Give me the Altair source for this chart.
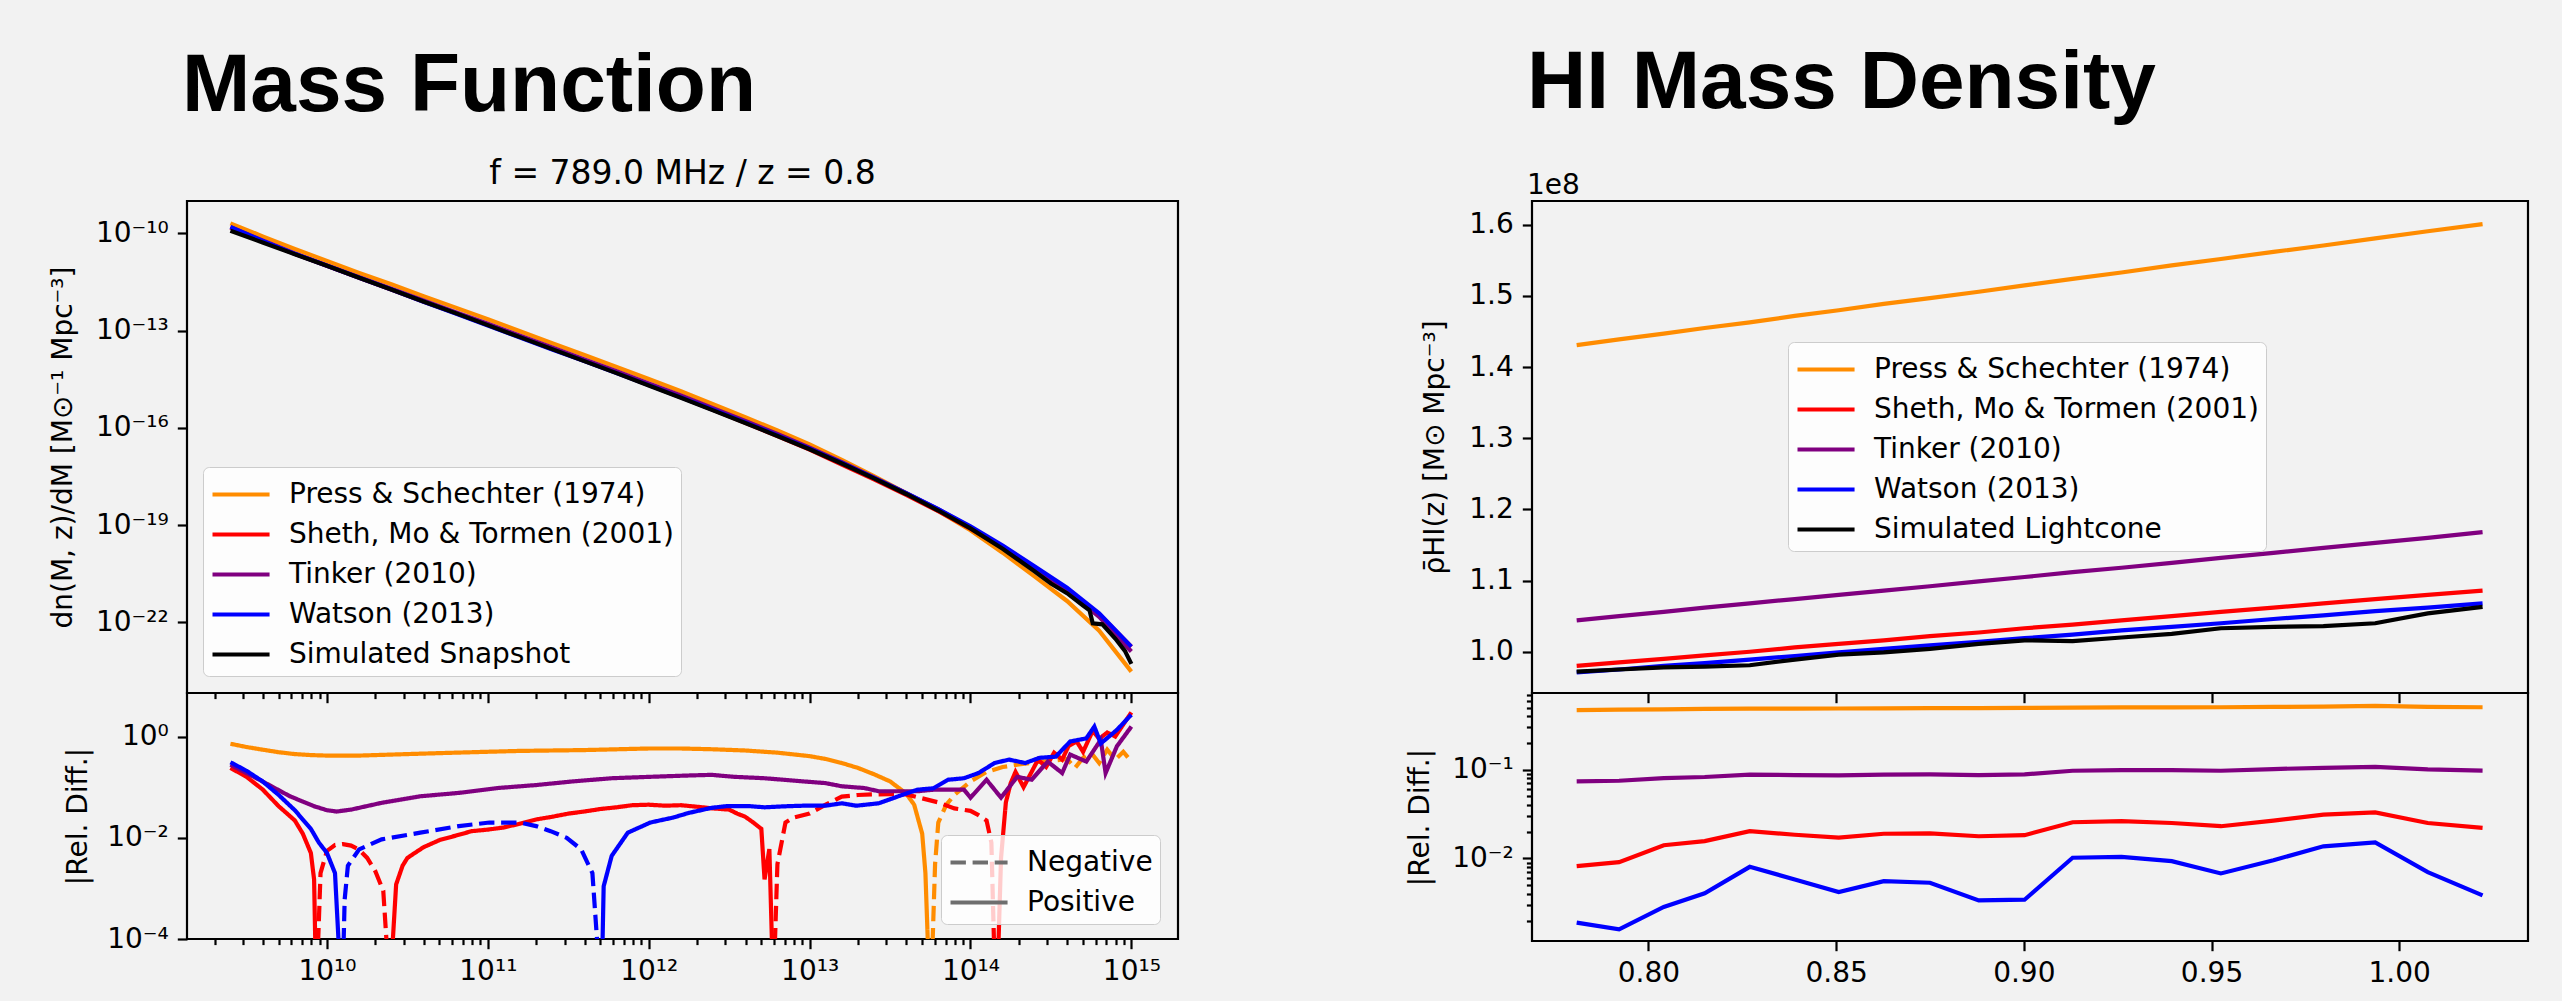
import altair as alt
import pandas as pd
import numpy as np

# ---------------- names / colours ----------------
SERIES = ["Press & Schechter (1974)", "Sheth, Mo & Tormen (2001)", "Tinker (2010)", "Watson (2013)"]
COLORS = ["#ff8c00", "#ff0000", "#800080", "#0000ff"]
SIM_SNAP = "Simulated Snapshot"
SIM_LC = "Simulated Lightcone"
SIGNS = ["Negative", "Positive"]

# ---------------- left top: log10 dn/dM ----------------
LOGM_MODEL = [9.4, 9.6, 9.8, 10.0, 10.2, 10.4, 10.6, 10.8, 11.0, 11.2, 11.4, 11.6, 11.8, 12.0, 12.2,
              12.4, 12.6, 12.8, 13.0, 13.2, 13.4, 13.6, 13.8, 14.0, 14.2, 14.4, 14.6, 14.8, 15.0]
LOGN_PS = [-9.69, -10.09, -10.48, -10.85, -11.22, -11.57, -11.94, -12.29, -12.65, -13.02, -13.39, -13.75,
           -14.12, -14.49, -14.87, -15.27, -15.67, -16.08, -16.51, -16.99, -17.49, -18.01, -18.56, -19.16,
           -19.85, -20.59, -21.34, -22.26, -23.52]
LOGN_SMT = [-9.83, -10.24, -10.63, -11.00, -11.37, -11.73, -12.10, -12.46, -12.82, -13.19, -13.56, -13.93,
            -14.29, -14.67, -15.05, -15.44, -15.84, -16.25, -16.67, -17.13, -17.59, -18.07, -18.57, -19.11,
            -19.70, -20.35, -20.98, -21.75, -22.75]
LOGN_TINKER = [-9.81, -10.22, -10.62, -10.99, -11.35, -11.71, -12.07, -12.43, -12.79, -13.16, -13.52, -13.89,
               -14.25, -14.63, -15.00, -15.39, -15.79, -16.19, -16.61, -17.06, -17.53, -18.01, -18.51, -19.07,
               -19.68, -20.34, -21.01, -21.83, -22.90]
LOGN_WATSON = [-9.80, -10.23, -10.63, -11.00, -11.37, -11.73, -12.11, -12.47, -12.84, -13.21, -13.58, -13.94,
               -14.31, -14.68, -15.06, -15.44, -15.83, -16.23, -16.64, -17.08, -17.54, -18.01, -18.51, -19.04,
               -19.63, -20.28, -20.93, -21.72, -22.75]
LOGM_SIM = [9.4, 9.6, 9.8, 10.0, 10.2, 10.4, 10.6, 10.8, 11.0, 11.2, 11.4, 11.6, 11.8, 12.0, 12.2, 12.4,
            12.6, 12.8, 13.0, 13.2, 13.4, 13.6, 13.8, 14.0, 14.2, 14.4, 14.5, 14.6, 14.7, 14.74, 14.76,
            14.82, 14.9, 14.96, 15.0]
LOGN_SIM = [-9.92, -10.28, -10.64, -11.00, -11.37, -11.73, -12.10, -12.46, -12.83, -13.20, -13.57, -13.94,
            -14.31, -14.69, -15.07, -15.46, -15.85, -16.25, -16.66, -17.10, -17.56, -18.04, -18.55, -19.10,
            -19.73, -20.43, -20.80, -21.10, -21.48, -21.63, -22.03, -22.06, -22.50, -22.88, -23.28]

# ---------------- left bottom: signed relative difference ----------------
LOGM_REL_PS = [9.4, 9.5, 9.6, 9.7, 9.8, 9.9, 10.0, 10.2, 10.4, 10.6, 10.8, 11.0, 11.2, 11.4, 11.6, 11.8, 12.0,
               12.2, 12.4, 12.6, 12.8, 13.0, 13.1, 13.2, 13.3, 13.4, 13.5, 13.6, 13.65, 13.7, 13.72, 13.74,
               13.76, 13.78, 13.8, 13.85, 13.9, 14.0, 14.1, 14.2, 14.3, 14.4, 14.5, 14.6, 14.65, 14.7, 14.75,
               14.8, 14.85, 14.9, 14.95, 15.0]
REL_PS = [.72, .62, .55, .49, .45, .43, .42, .42, .44, .46, .48, .50, .52, .53, .54, .56, .58,
          .58, .56, .53, .48, .41, .36, .30, .24, .18, .13, .075, .045, .012, .002, 3e-5,
          -3e-5, -.003, -.02, -.045, -.07, -.13, -.2, -.25, -.28, -.31, -.33, -.36, -.24, -.38, -.48,
          -.3, -.55, -.35, -.5, -.32]
LOGM_REL_SMT = [9.4, 9.5, 9.6, 9.7, 9.8, 9.85, 9.9, 9.92, 9.93,
                9.94, 9.96, 10.0, 10.05, 10.1, 10.15, 10.2, 10.25, 10.3, 10.35, 10.38,
                10.4, 10.43, 10.47, 10.5, 10.6, 10.7, 10.8, 10.9, 11.0, 11.1, 11.2, 11.3, 11.4, 11.5, 11.6,
                11.7, 11.8, 11.9, 12.0, 12.1, 12.2, 12.3, 12.4, 12.5, 12.55, 12.6, 12.65, 12.7, 12.72, 12.75,
                12.77,
                12.78, 12.8, 12.85, 12.9, 13.0, 13.1, 13.2, 13.3, 13.4, 13.5, 13.6, 13.7, 13.8, 13.9, 14.0,
                14.05, 14.1, 14.13, 14.15,
                14.17, 14.19, 14.22, 14.25, 14.28, 14.33, 14.38, 14.42, 14.47, 14.52, 14.57, 14.61, 14.66,
                14.7, 14.76, 14.8, 14.85, 14.9, 15.0]
REL_SMT = [.24, .16, .09, .042, .022, .012, .005, .0015, 3e-5,
           -3e-5, -.002, -.0055, -.0072, -.0075, -.007, -.0058, -.004, -.0022, -.0009, -3e-5,
           3e-5, .0012, .0028, .004, .0065, .009, .011, .0135, .0145, .016, .019, .023, .026, .03, .033,
           .037, .04, .044, .045, .043, .044, .041, .038, .036, .03, .026, .02, .015, .0015, .006,
           3e-5,
           -3e-5, -.003, -.02, -.025, -.03, -.045, -.065, -.07, -.072, -.073, -.072, -.06, -.05, -.038, -.034,
           -.028, -.022, -.008, -3e-5,
           3e-5, .004, .05, .12, .2, .1, .2, .35, .25, .48, .35, .65, .8,
           .5, 1.3, .9, 1.2, 1.0, 3.0]
LOGM_REL_TINKER = [9.4, 9.58, 9.77, 9.92, 10.0, 10.06, 10.15, 10.34, 10.58, 10.82, 11.06, 11.3, 11.53, 11.77,
                   12.01, 12.25, 12.39, 12.53, 12.72, 12.96, 13.1, 13.2, 13.34, 13.43, 13.58, 13.67, 13.77,
                   13.86, 13.96, 14.0, 14.1, 14.15, 14.19, 14.29, 14.38, 14.48, 14.57, 14.62, 14.72, 14.81,
                   14.84, 14.91, 15.0]
REL_TINKER = [.277, .14, .066, .042, .035, .033, .036, .049, .066, .077, .096, .11, .13, .15,
              .16, .17, .175, .16, .15, .13, .12, .104, .096, .083, .083, .083, .089,
              .089, .089, .062, .14, .089, .062, .16, .14, .32, .19, .44, .32, .86,
              .19, .64, 1.57]
LOGM_REL_WATSON = [9.4, 9.5, 9.6, 9.7, 9.8, 9.9, 9.95, 10.0, 10.05, 10.08,
                   10.1, 10.11, 10.13, 10.2, 10.34, 10.58, 10.82, 11.01, 11.2, 11.3, 11.39, 11.49, 11.58,
                   11.65, 11.69,
                   11.71, 11.72, 11.77, 11.87, 12.01, 12.15, 12.25, 12.39, 12.48, 12.63, 12.72, 12.86, 12.96,
                   13.1, 13.2, 13.29, 13.43, 13.58, 13.67, 13.77, 13.86, 13.96, 14.05, 14.15, 14.24, 14.34,
                   14.43, 14.53, 14.62, 14.72, 14.77, 14.81, 14.91, 15.0]
REL_WATSON = [.31, .21, .13, .07, .035, .015, .008, .005, .002, 3e-5,
              -3e-5, -.0006, -.0028, -.0059, -.0093, -.0126, -.017, -.02, -.02, -.017, -.0135, -.01, -.0059,
              -.002, -3e-5,
              3e-5, .0011, .0044, .0126, .02, .025, .031, .039, .042, .042, .04, .042, .043,
              .043, .048, .043, .048, .071, .089, .095, .14, .15, .19, .30, .35, .30,
              .38, .40, .8, .92, 1.57, .73, 1.35, 2.7]

# ---------------- right: HI mass density (units of 1e8) ----------------
Z = [0.7809, 0.7922, 0.8041, 0.8150, 0.8270, 0.8390, 0.8507, 0.8627, 0.8750, 0.8880,
     0.9002, 0.9130, 0.9260, 0.9394, 0.9525, 0.9665, 0.9798, 0.9936, 1.0076, 1.0222]
RHO_PS = [1.431, 1.439, 1.447, 1.455, 1.463, 1.472, 1.480, 1.489, 1.497, 1.506,
          1.515, 1.524, 1.533, 1.543, 1.552, 1.562, 1.571, 1.581, 1.591, 1.601]
RHO_SMT = [0.980, 0.985, 0.990, 0.995, 1.000, 1.006, 1.011, 1.016, 1.022, 1.027,
           1.033, 1.038, 1.044, 1.050, 1.056, 1.062, 1.068, 1.074, 1.080, 1.086]
RHO_TINKER = [1.044, 1.050, 1.056, 1.062, 1.068, 1.074, 1.080, 1.086, 1.092, 1.099,
              1.105, 1.112, 1.118, 1.125, 1.132, 1.139, 1.146, 1.153, 1.160, 1.168]
RHO_WATSON = [0.971, 0.975, 0.980, 0.984, 0.989, 0.994, 0.999, 1.004, 1.009, 1.014,
              1.019, 1.024, 1.030, 1.035, 1.040, 1.046, 1.051, 1.057, 1.062, 1.068]
RHO_SIM = [0.972, 0.975, 0.978, 0.979, 0.981, 0.989, 0.996, 0.999, 1.004, 1.011,
           1.016, 1.015, 1.020, 1.025, 1.033, 1.035, 1.036, 1.040, 1.054, 1.063]
REL_Z_PS = [0.469, 0.475, 0.48, 0.485, 0.489, 0.489, 0.49, 0.492, 0.494, 0.495,
            0.497, 0.502, 0.504, 0.505, 0.506, 0.51, 0.515, 0.524, 0.51, 0.506]
REL_Z_SMT = [0.0082, 0.0091, 0.0141, 0.0157, 0.0203, 0.0185, 0.0172, 0.019, 0.0192, 0.0178,
             0.0183, 0.0256, 0.0263, 0.0251, 0.0231, 0.0267, 0.0312, 0.0331, 0.0251, 0.0221]
REL_Z_TINKER = [0.074, 0.0752, 0.0805, 0.0828, 0.0879, 0.0871, 0.0863, 0.0879, 0.0887, 0.0871,
                0.0887, 0.0975, 0.099, 0.099, 0.0975, 0.1018, 0.1052, 0.108, 0.101, 0.098]
REL_Z_WATSON = [0.00189, 0.00159, 0.00284, 0.00405, 0.00805, 0.00581, 0.00419, 0.00556, 0.00533, 0.00337,
                0.00343, 0.0102, 0.0104, 0.00933, 0.00678, 0.00957, 0.0137, 0.0152, 0.00702, 0.00384]

# ---------------- axis tick labels ----------------
M_MAJOR_EXP = [10, 11, 12, 13, 14, 15]
N_MAJOR_EXP = [-10, -13, -16, -19, -22]
REL_MAJOR_EXP = [0, -2, -4]
RELZ_MAJOR_EXP = [-1, -2]
RHO_TICKS = [1.0, 1.1, 1.2, 1.3, 1.4, 1.5, 1.6]
Z_TICKS = [0.80, 0.85, 0.90, 0.95, 1.00]

# ---------------- styling ----------------
FONT = "DejaVu Sans"
BIG = "Liberation Sans"
LW = 4.2
BG = "#f2f2f2"
M_DOM = [10 ** 9.13, 10 ** 15.29]
Z_DOM = [0.769, 1.0343]

SUP = str.maketrans("0123456789-", "⁰¹²³⁴⁵⁶⁷⁸⁹⁻")


def log_ticks(lo, hi):
    vals = []
    for e in range(int(np.floor(np.log10(lo))) - 1, int(np.ceil(np.log10(hi))) + 1):
        for k in range(1, 10):
            v = float(f"{k}e{e}")
            if lo <= v <= hi:
                vals.append(v)
    return vals


def sup_expr(exps):
    parts = [f"abs(log(datum.value)/LN10 - ({e})) < 0.001 ? '10{str(e).translate(SUP)}'" for e in exps]
    return " : ".join(parts) + " : ''"


MAJOR_TEST = "abs(log(datum.value)/LN10 - round(log(datum.value)/LN10)) < 0.001"
TICK_COND = {"condition": {"test": MAJOR_TEST, "value": 9.7}, "value": 5.6}

# ---------------- data frames ----------------
rows = []
for name, arr in zip(SERIES, [LOGN_PS, LOGN_SMT, LOGN_TINKER, LOGN_WATSON]):
    for lm, ln in zip(LOGM_MODEL, arr):
        rows.append({"m": 10 ** lm, "n": 10 ** ln, "series": name})
for lm, ln in zip(LOGM_SIM, LOGN_SIM):
    rows.append({"m": 10 ** lm, "n": 10 ** ln, "series": SIM_SNAP})
df_tl = pd.DataFrame(rows)

rows = []
for name, ms, vs in zip(SERIES, [LOGM_REL_PS, LOGM_REL_SMT, LOGM_REL_TINKER, LOGM_REL_WATSON],
                        [REL_PS, REL_SMT, REL_TINKER, REL_WATSON]):
    seg = 0
    prev = None
    for lm, v in zip(ms, vs):
        s = "Positive" if v > 0 else "Negative"
        if prev is not None and s != prev:
            seg += 1
        prev = s
        rows.append({"m": 10 ** lm, "v": abs(v), "series": name, "sign": s, "seg": seg})
df_bl = pd.DataFrame(rows)

rows = []
for name, arr in zip(SERIES + [SIM_LC], [RHO_PS, RHO_SMT, RHO_TINKER, RHO_WATSON, RHO_SIM]):
    for z, r in zip(Z, arr):
        rows.append({"z": z, "rho": r, "series": name})
df_tr = pd.DataFrame(rows)

rows = []
for name, arr in zip(SERIES, [REL_Z_PS, REL_Z_SMT, REL_Z_TINKER, REL_Z_WATSON]):
    for z, r in zip(Z, arr):
        rows.append({"z": z, "v": r, "series": name})
df_br = pd.DataFrame(rows)

m_ticks = log_ticks(*M_DOM)
relz_dom = [10 ** -2.93, 10 ** -0.135]
relz_ticks = log_ticks(*relz_dom)

# legend line symbol: starts 1 unit left of centre, runs ~3.2 units (about 57 px)
LEG_SYMBOL = "M-1,0H2.17"
leg_common = dict(orient="none", title=None, symbolType=LEG_SYMBOL, symbolStrokeWidth=LW, symbolSize=1296,
                  symbolFillColor="transparent",
                  labelFont=FONT, labelFontSize=28, labelColor="black", labelOffset=38, labelLimit=1000,
                  padding=7, rowPadding=5, fillColor="rgba(255,255,255,0.8)", strokeColor="#cccccc",
                  cornerRadius=6)

color_left = alt.Scale(domain=SERIES + [SIM_SNAP], range=COLORS + ["#000000"])
color_right = alt.Scale(domain=SERIES + [SIM_LC], range=COLORS + ["#000000"])

# ---------------- panels ----------------
tl = alt.Chart(df_tl).mark_line(strokeWidth=LW, clip=True).encode(
    x=alt.X("m:Q", scale=alt.Scale(type="log", domain=M_DOM, nice=False),
            axis=alt.Axis(values=m_ticks, labels=False, title=None, tickSize=TICK_COND)),
    y=alt.Y("n:Q", scale=alt.Scale(type="log", domain=[10 ** -24.18, 10 ** -9.0], nice=False),
            axis=alt.Axis(values=[float(f"1e{e}") for e in N_MAJOR_EXP], labelExpr=sup_expr(N_MAJOR_EXP),
                          title="dn(M, z)/dM [M⊙⁻¹ Mpc⁻³]", titleX=-124, titleY=246)),
    color=alt.Color("series:N", scale=color_left, legend=alt.Legend(legendX=16, legendY=266, **leg_common)),
).properties(width=991, height=492,
             title=alt.TitleParams("f = 789.0 MHz / z = 0.8", font=FONT, fontSize=33, fontWeight="normal",
                                   color="black", anchor="middle", frame="group", baseline="alphabetic",
                                   offset=17, dy=33))

bl = alt.Chart(df_bl).mark_line(strokeWidth=LW, clip=True).encode(
    x=alt.X("m:Q", scale=alt.Scale(type="log", domain=M_DOM, nice=False),
            axis=alt.Axis(values=m_ticks, labelExpr=sup_expr(M_MAJOR_EXP), tickSize=TICK_COND,
                          title="M [M⊙]", titleX=495, titleY=64, titleBaseline="top")),
    y=alt.Y("v:Q", scale=alt.Scale(type="log", domain=[1e-4, 10 ** 0.86], nice=False),
            axis=alt.Axis(values=[float(f"1e{e}") for e in REL_MAJOR_EXP], labelExpr=sup_expr(REL_MAJOR_EXP),
                          title="|Rel. Diff.|", titleX=-109, titleY=123)),
    color=alt.Color("series:N", scale=color_left, legend=None),
    strokeDash=alt.StrokeDash("sign:N", scale=alt.Scale(domain=SIGNS, range=[[15.4, 6.7], [1, 0]]),
                              legend=alt.Legend(legendX=754, legendY=142, symbolStrokeColor="#6e6e6e",
                                                **leg_common)),
    detail="seg:N",
).properties(width=991, height=246)

tr = alt.Chart(df_tr).mark_line(strokeWidth=LW, clip=True).encode(
    x=alt.X("z:Q", scale=alt.Scale(domain=Z_DOM, nice=False, zero=False),
            axis=alt.Axis(values=Z_TICKS, labels=False, title=None)),
    y=alt.Y("rho:Q", scale=alt.Scale(domain=[0.942, 1.6335], nice=False, zero=False),
            axis=alt.Axis(values=RHO_TICKS, format=".1f", title="ρ̄HI(z) [M⊙ Mpc⁻³]", titleX=-97, titleY=246)),
    color=alt.Color("series:N", scale=color_right, legend=alt.Legend(legendX=256, legendY=141, **leg_common)),
).properties(width=996, height=492,
             title=alt.TitleParams("HI Mass Density", subtitle="1e8", font=BIG, fontSize=82, fontWeight="bold",
                                   color="black", subtitleFont=FONT, subtitleFontSize=28, subtitleColor="black",
                                   subtitleFontWeight="normal", anchor="start", frame="group",
                                   baseline="alphabetic", offset=8, subtitlePadding=4, dx=-5, dy=73))

br = alt.Chart(df_br).mark_line(strokeWidth=LW, clip=True).encode(
    x=alt.X("z:Q", scale=alt.Scale(domain=Z_DOM, nice=False, zero=False),
            axis=alt.Axis(values=Z_TICKS, format=".2f", title=None)),
    y=alt.Y("v:Q", scale=alt.Scale(type="log", domain=relz_dom, nice=False),
            axis=alt.Axis(values=relz_ticks, labelExpr=sup_expr(RELZ_MAJOR_EXP), tickSize=TICK_COND,
                          title="|Rel. Diff.|", titleX=-112, titleY=124)),
    color=alt.Color("series:N", scale=alt.Scale(domain=SERIES, range=COLORS), legend=None),
).properties(width=996, height=248)

chart = alt.concat(
    tl, tr, bl, br, columns=2, spacing={"row": 0, "column": 354}, bounds="flush",
    title=alt.TitleParams("Mass Function", font=BIG, fontSize=82, fontWeight="bold", color="black",
                          anchor="start", frame="group", baseline="alphabetic", dx=-5, dy=156),
).resolve_scale(
    color="independent", strokeDash="independent", x="independent", y="independent"
).properties(
    autosize=alt.AutoSizeParams(type="none"),
    padding={"left": 187, "top": 201, "right": 2375, "bottom": 800},
).configure(
    background=BG, font=FONT
).configure_view(
    stroke="black", strokeWidth=2.2
).configure_axis(
    labelFont=FONT, labelFontSize=28, labelColor="black", titleFont=FONT, titleFontSize=28,
    titleFontWeight="normal", titleColor="black", titleAngle=270, titleBaseline="middle",
    tickColor="black", tickWidth=2.2, tickSize=9.7, labelPadding=9, domain=False, grid=False,
    labelFlush=False, labelOverlap=False
).configure_axisX(
    titleAngle=0
)

chart.save("out.html", embed_options={"renderer": "svg", "actions": False})
